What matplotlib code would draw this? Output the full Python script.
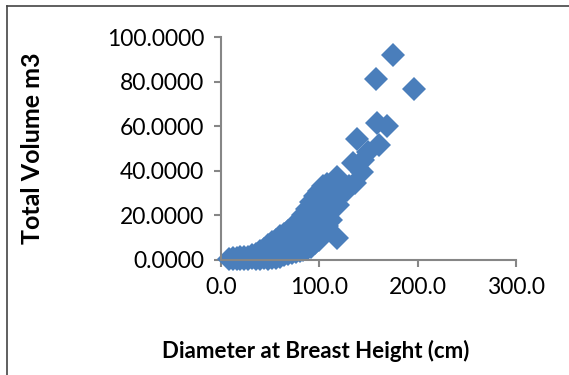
import matplotlib.pyplot as plt
from matplotlib.lines import Line2D

# Diameter at breast height (cm) and total volume (m3)
dbh = [8, 12, 12, 16, 16, 20, 20, 24, 24, 28, 28, 32, 32, 36, 36,
       40, 40, 40, 44, 44, 44, 48, 48, 48, 52, 52, 52,
       56, 56, 56, 56, 60, 60, 60, 60, 64, 64, 64, 64, 68, 68, 68, 68,
       72, 72, 72, 72, 76, 76, 76, 76, 80, 80, 80, 80, 84, 84, 84, 84,
       88, 88, 88, 88, 92, 92, 92, 92, 96, 96, 96, 96, 100, 100, 100, 100,
       104, 104, 104, 104, 108, 108, 108, 108, 112, 112, 112,
       117.7, 119.3, 118.5, 124.4, 128, 130, 136.3, 134.6, 143, 144.8, 149.8, 138,
       160.7, 158.4, 168.5, 157.7, 196.7, 175.3]
volume = [0.3, 0.4, 0.8, 0.5, 1.0, 0.5, 1.2, 0.6, 1.3, 0.5, 1.5, 0.7, 2.0, 0.5, 2.8,
          0.4, 2.0, 3.8, 0.8, 2.5, 5.0, 0.6, 3.0, 6.5, 1.0, 4.0, 8.0,
          1.0, 3.5, 6.0, 9.0, 1.5, 4.5, 7.5, 10.5, 2.0, 5.0, 8.5, 11.5, 2.5, 6.0, 9.5, 13.0,
          3.2, 7.0, 11.0, 14.5, 3.5, 8.0, 12.0, 16.5, 4.0, 8.5, 13.0, 18.0, 4.5, 9.5, 15.0, 20.0,
          5.0, 11.0, 17.0, 23.0, 6.0, 12.5, 19.0, 26.0, 7.5, 14.0, 21.0, 28.5, 9.0, 16.0, 23.0, 31.0,
          12.0, 19.0, 26.0, 33.0, 15.0, 22.0, 29.0, 34.0, 18.0, 25.0, 33.0,
          37.4, 24.7, 9.6, 29.9, 31.5, 33.0, 34.4, 43.4, 39.6, 44.8, 48.6, 54.1,
          51.6, 61.6, 60.1, 81.0, 76.7, 91.9]

x_ticks = [0, 100, 200, 300]
y_ticks = [0, 20, 40, 60, 80, 100]

plt.rcParams['font.family'] = ['Lato', 'DejaVu Sans']

fig = plt.figure(figsize=(5.69, 3.75), dpi=100)
ax = fig.add_axes([0.388, 0.307, 0.519, 0.594])

ax.plot(dbh, volume, linestyle='none', marker='D', markersize=12.5,
        color='#4A7EBB', markeredgewidth=0, clip_on=False)

ax.set_xlim(0, 300)
ax.set_ylim(0, 100)
ax.set_xticks(x_ticks)
ax.set_yticks(y_ticks)
ax.set_xticklabels([f'{t:.1f}' for t in x_ticks])
ax.set_yticklabels([f'{t:.4f}' for t in y_ticks])

axis_grey = '#868686'
for side in ['top', 'right']:
    ax.spines[side].set_visible(False)
for side in ['left', 'bottom']:
    ax.spines[side].set_color(axis_grey)
    ax.spines[side].set_linewidth(1.5)
ax.tick_params(direction='out', length=5, width=1.5, color=axis_grey,
               labelsize=16.5, pad=7)

ax.set_xlabel('Diameter at Breast Height (cm)', fontsize=16, fontweight='bold')
ax.set_ylabel('Total Volume m3', fontsize=18, fontweight='bold')
ax.xaxis.set_label_coords(0.322, -0.36)
ax.yaxis.set_label_coords(-0.60, 0.5)

# outer chart frame
fig.add_artist(Line2D([7 / 569, 7 / 569], [0, 1 - 6 / 375], color='#444444', linewidth=1.2))
fig.add_artist(Line2D([7 / 569, 1], [1 - 6 / 375, 1 - 6 / 375], color='#444444', linewidth=1.2))

plt.savefig('out.png', dpi=100)
